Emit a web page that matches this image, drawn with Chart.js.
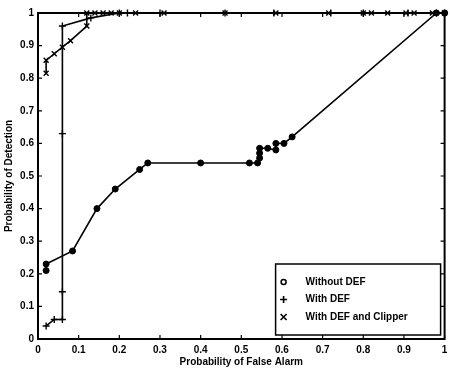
<!DOCTYPE html>
<html>
<head>
<meta charset="utf-8">
<title>ROC curves</title>
<script src="https://cdn.jsdelivr.net/npm/chart.js@4"></script>
<style>
  html, body { margin: 0; padding: 0; background: #fff; }
  #wrap { width: 450px; height: 370px; position: relative; }
</style>
</head>
<body>
<div id="wrap"><canvas id="rocChart"></canvas></div>
<script>
// ROC data

// Without DEF (circles)
const noDefX = [0.02, 0.02, 0.085, 0.145, 0.19, 0.25, 0.27, 0.40, 0.52, 0.54, 0.545, 0.545, 0.545, 0.565, 0.585, 0.585, 0.605, 0.625, 0.98, 1.0];
const noDefY = [0.21, 0.23, 0.27, 0.40, 0.46, 0.52, 0.54, 0.54, 0.54, 0.54, 0.555, 0.57, 0.585, 0.585, 0.58, 0.60, 0.60, 0.62, 1.0, 1.0];

// With DEF (plus)
const defX = [0.02, 0.04, 0.06, 0.06, 0.06, 0.06, 0.13, 0.20, 0.22, 0.30, 0.46, 0.58, 0.72, 0.80, 0.91, 0.98, 1.0];
const defY = [0.04, 0.06, 0.06, 0.145, 0.63, 0.96, 0.985, 1.0, 1.0, 1.0, 1.0, 1.0, 1.0, 1.0, 1.0, 1.0, 1.0];

// With DEF and Clipper (x)
const clipX = [0.02, 0.02, 0.04, 0.06, 0.08, 0.12, 0.12, 0.14, 0.16, 0.18, 0.20, 0.24, 0.31, 0.46, 0.585, 0.715, 0.80, 0.82, 0.86, 0.905, 0.925, 0.97, 1.0];
const clipY = [0.815, 0.855, 0.875, 0.895, 0.915, 0.96, 1.0, 1.0, 1.0, 1.0, 1.0, 1.0, 1.0, 1.0, 1.0, 1.0, 1.0, 1.0, 1.0, 1.0, 1.0, 1.0, 1.0];

const seriesLabels = ['Without DEF', 'With DEF', 'With DEF and Clipper'];
const seriesStyles = ['circle', 'cross', 'crossRot'];

const FONT = { family: '"Liberation Sans", Arial, sans-serif', size: 10, weight: 'bold' };

function toPoints(xs, ys) {
  return xs.map((x, i) => ({ x: x, y: ys[i] }));
}

function makeDataset(label, data, style) {
  return {
    label: label,
    data: data,
    showLine: true,
    borderColor: '#000',
    backgroundColor: '#000',
    borderWidth: 1.6,
    pointStyle: style,
    pointRadius: style === 'circle' ? 3 : 3.5,
    pointBorderWidth: style === 'circle' ? 1 : 1.4,
    pointBorderColor: '#000',
    pointBackgroundColor: '#000',
    clip: false
  };
}

// MATLAB style box with inward ticks on every side
const boxPlugin = {
  id: 'matlabBox',
  afterDraw(chart) {
    const ctx = chart.ctx;
    const a = chart.chartArea;
    const xs = chart.scales.x;
    const ys = chart.scales.y;
    const len = 4;
    ctx.save();
    ctx.strokeStyle = '#000';
    ctx.lineWidth = 1.2;
    ctx.beginPath();
    xs.ticks.forEach(t => {
      const px = xs.getPixelForValue(t.value);
      ctx.moveTo(px, a.bottom); ctx.lineTo(px, a.bottom - len);
      ctx.moveTo(px, a.top); ctx.lineTo(px, a.top + len);
    });
    ys.ticks.forEach(t => {
      const py = ys.getPixelForValue(t.value);
      ctx.moveTo(a.left, py); ctx.lineTo(a.left + len, py);
      ctx.moveTo(a.right, py); ctx.lineTo(a.right - len, py);
    });
    ctx.stroke();
    ctx.lineWidth = 2;
    ctx.strokeRect(a.left, a.top, a.right - a.left, a.bottom - a.top);
    ctx.restore();
  }
};

// Legend box drawn inside the plot, lower right
const legendPlugin = {
  id: 'insideLegend',
  afterDraw(chart) {
    const ctx = chart.ctx;
    const a = chart.chartArea;
    const w = 165, h = 71;
    const left = a.right - 4 - w;
    const top = a.bottom - 4 - h;
    ctx.save();
    ctx.fillStyle = '#fff';
    ctx.fillRect(left, top, w, h);
    ctx.strokeStyle = '#000';
    ctx.lineWidth = 1.5;
    ctx.strokeRect(left, top, w, h);
    ctx.font = `${FONT.weight} ${FONT.size}px ${FONT.family}`;
    ctx.textBaseline = 'middle';
    ctx.fillStyle = '#000';
    seriesLabels.forEach((label, i) => {
      const cy = top + 18 + i * 17.5;
      const mx = left + 8;
      ctx.beginPath();
      if (seriesStyles[i] === 'circle') {
        ctx.lineWidth = 1.5;
        ctx.arc(mx, cy, 2.5, 0, Math.PI * 2);
      } else if (seriesStyles[i] === 'cross') {
        ctx.lineWidth = 1.6;
        ctx.moveTo(mx - 3.5, cy); ctx.lineTo(mx + 3.5, cy);
        ctx.moveTo(mx, cy - 3.5); ctx.lineTo(mx, cy + 3.5);
      } else {
        ctx.lineWidth = 1.6;
        ctx.moveTo(mx - 3, cy - 3); ctx.lineTo(mx + 3, cy + 3);
        ctx.moveTo(mx - 3, cy + 3); ctx.lineTo(mx + 3, cy - 3);
      }
      ctx.stroke();
      ctx.fillText(label, left + 30, cy);
    });
    ctx.restore();
  }
};

function tickLabel(v) {
  return String(+v.toFixed(1));
}

document.addEventListener('DOMContentLoaded', function() {
  const ctx = document.getElementById('rocChart').getContext('2d');
  new Chart(ctx, {
    type: 'scatter',
    data: {
      datasets: [
        makeDataset(seriesLabels[0], toPoints(noDefX, noDefY), seriesStyles[0]),
        makeDataset(seriesLabels[1], toPoints(defX, defY), seriesStyles[1]),
        makeDataset(seriesLabels[2], toPoints(clipX, clipY), seriesStyles[2])
      ]
    },
    options: {
      responsive: true,
      maintainAspectRatio: false,
      animation: false,
      layout: { padding: { left: 3, right: 4, top: 13, bottom: 0 } },
      plugins: {
        legend: { display: false },
        tooltip: { enabled: false }
      },
      scales: {
        x: {
          type: 'linear',
          min: 0,
          max: 1,
          grid: { display: false, drawTicks: false },
          border: { display: false },
          ticks: { stepSize: 0.1, padding: 5, color: '#000', font: FONT, callback: tickLabel, maxRotation: 0 },
          title: { display: true, text: 'Probability of False Alarm', color: '#000', font: FONT, padding: { top: 0, bottom: 2 } },
          afterFit(scale) {
            scale.height = 31;
            scale.paddingLeft = 0;
            scale.paddingRight = 0;
          }
        },
        y: {
          type: 'linear',
          min: 0,
          max: 1,
          grid: { display: false, drawTicks: false },
          border: { display: false },
          ticks: { stepSize: 0.1, padding: 4, color: '#000', font: FONT, callback: tickLabel },
          title: { display: true, text: 'Probability of Detection', color: '#000', font: FONT, padding: { top: 0, bottom: 0 } },
          afterFit(scale) {
            scale.width = 35;
            scale.paddingTop = 0;
            scale.paddingBottom = 0;
          }
        }
      }
    },
    plugins: [boxPlugin, legendPlugin]
  });
});
</script>
</body>
</html>
